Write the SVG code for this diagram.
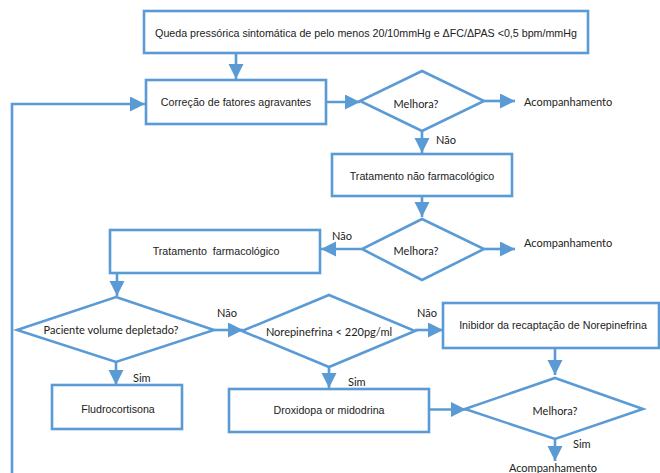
<svg xmlns="http://www.w3.org/2000/svg" width="660" height="473" viewBox="0 0 660 473">
<style>
.box{fill:#fff;stroke:#5b9bd5;stroke-width:2.6}
.dia{fill:#fff;stroke:#5b9bd5;stroke-width:2.6}
.ln{fill:none;stroke:#5b9bd5;stroke-width:2.6}
.t{font-family:"Liberation Sans",Arial,sans-serif;font-size:10.7px;fill:#222;text-anchor:middle;dominant-baseline:central}
.h{font-family:Lato,"Open Sans",sans-serif;font-size:11px;fill:#222;dominant-baseline:central}
.c{text-anchor:middle}
</style>
<defs>
<marker id="ah" markerUnits="userSpaceOnUse" markerWidth="16" markerHeight="16" refX="15" refY="7.5" orient="auto">
<path d="M0,0 L15,7.5 L0,15 z" fill="#5b9bd5"/>
</marker>
</defs>
<rect width="660" height="473" fill="#fff"/>
<g id="connectors">
<line class="ln" x1="236" y1="53" x2="236" y2="79" marker-end="url(#ah)"/>
<line class="ln" x1="326" y1="102" x2="360" y2="102" marker-end="url(#ah)"/>
<line class="ln" x1="484" y1="101" x2="515" y2="101" marker-end="url(#ah)"/>
<line class="ln" x1="422" y1="131" x2="422" y2="153" marker-end="url(#ah)"/>
<line class="ln" x1="422" y1="196" x2="422" y2="217" marker-end="url(#ah)"/>
<line class="ln" x1="362" y1="249" x2="321" y2="249" marker-end="url(#ah)"/>
<line class="ln" x1="484" y1="249" x2="515" y2="249" marker-end="url(#ah)"/>
<line class="ln" x1="117" y1="273" x2="117" y2="296" marker-end="url(#ah)"/>
<line class="ln" x1="214" y1="330" x2="243" y2="330" marker-end="url(#ah)"/>
<line class="ln" x1="116" y1="362" x2="116" y2="385" marker-end="url(#ah)"/>
<line class="ln" x1="415" y1="330" x2="443" y2="330" marker-end="url(#ah)"/>
<line class="ln" x1="329" y1="367" x2="329" y2="388" marker-end="url(#ah)"/>
<line class="ln" x1="555" y1="348" x2="555" y2="375" marker-end="url(#ah)"/>
<line class="ln" x1="429" y1="409.5" x2="466" y2="409.5" marker-end="url(#ah)"/>
<line class="ln" x1="555" y1="439" x2="555" y2="461" marker-end="url(#ah)"/>
<polyline class="ln" points="12,474 12,104 145,104" marker-end="url(#ah)"/>
<text class="h" x="436" y="139">Não</text>
<text class="h" x="332" y="235">Não</text>
<text class="h" x="217" y="312">Não</text>
<text class="h" x="417" y="312">Não</text>
<text class="h" x="133" y="377">Sim</text>
<text class="h" x="348" y="381">Sim</text>
<text class="h" x="573" y="443">Sim</text>
</g>
<g id="n_top"><rect class="box" x="144" y="11" width="444" height="42"/><text class="t" x="366" y="33">Queda pressórica sintomática de pelo menos 20/10mmHg e ΔFC/ΔPAS &lt;0,5 bpm/mmHg</text></g>
<g id="n_correcao"><rect class="box" x="146" y="80" width="180" height="44"/><text class="t" x="236" y="102">Correção de fatores agravantes</text></g>
<g id="n_melhora1"><polygon class="dia" points="422,71 484,101 422,131 360,101"/><text class="h c" x="416" y="103">Melhora?</text></g>
<g id="n_acomp1"><text class="h" x="524" y="101">Acompanhamento</text></g>
<g id="n_naofarm"><rect class="box" x="332" y="154" width="180" height="42"/><text class="t" x="422" y="176">Tratamento não farmacológico</text></g>
<g id="n_melhora2"><polygon class="dia" points="422,219 484,249 422,280 362,249"/><text class="h c" x="416" y="250">Melhora?</text></g>
<g id="n_acomp2"><text class="h" x="524" y="242">Acompanhamento</text></g>
<g id="n_farm"><rect class="box" x="110" y="230" width="210" height="43"/><text class="t" x="216" y="251" xml:space="preserve">Tratamento  farmacológico</text></g>
<g id="n_paciente"><polygon class="dia" points="116,297 214,330 116,362 17,330"/><text class="h c" x="111" y="329">Paciente volume depletado?</text></g>
<g id="n_norepi"><polygon class="dia" points="329,295 415,331 329,367 242,331"/><text class="h c" x="329" y="331">Norepinefrina &lt; 220pg/ml</text></g>
<g id="n_inibidor"><rect class="box" x="443" y="303" width="216" height="45"/><text class="t" x="553" y="325">Inibidor da recaptação de Norepinefrina</text></g>
<g id="n_fludro"><rect class="box" x="52" y="385" width="130" height="44"/><text class="t" x="118" y="409">Fludrocortisona</text></g>
<g id="n_droxi"><rect class="box" x="229" y="389" width="200" height="43"/><text class="t" x="329" y="410">Droxidopa or midodrina</text></g>
<g id="n_melhora3"><polygon class="dia" points="555,378 643,409 555,439 465,409"/><text class="h c" x="555" y="410">Melhora?</text></g>
<g id="n_acomp3"><text class="h c" x="553" y="467">Acompanhamento</text></g>
</svg>
